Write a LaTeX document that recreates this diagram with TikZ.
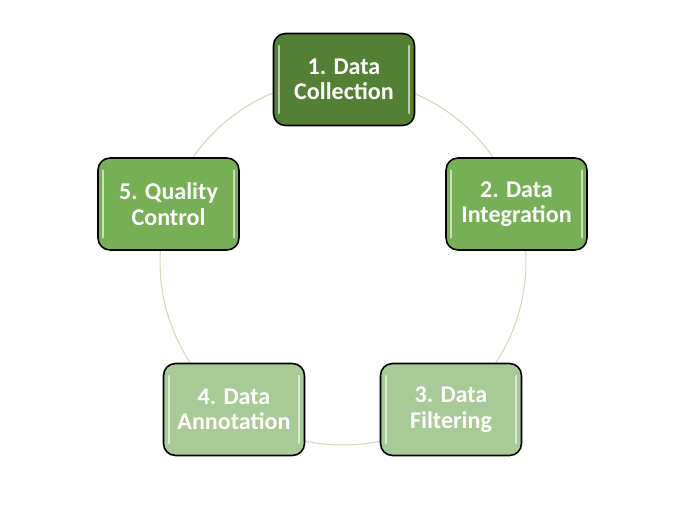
\documentclass[tikz,border=0pt]{standalone}
\usepackage{fontspec}
\setmainfont{Carlito}
\definecolor{darkleaf}{RGB}{83,128,52}
\definecolor{midleaf}{RGB}{118,175,85}
\definecolor{paleleaf}{RGB}{168,202,150}
\definecolor{ringleaf}{RGB}{200,222,186}
\begin{document}
\begin{tikzpicture}[
        x=0.02cm, y=-0.02cm,
        stage/.style={rectangle, rounded corners=0.24cm, draw=black, line width=0.9pt, text=white, minimum width=2.82cm, minimum height=1.84cm, align=center, font=\fontsize{13.7}{14.4}\selectfont\bfseries,
            path picture={
                \draw[white, opacity=0.6, line width=0.9pt, line cap=round] ([xshift=3pt,yshift=7pt]path picture bounding box.south west) -- ([xshift=3pt,yshift=-7pt]path picture bounding box.north west);
                \draw[white, opacity=0.6, line width=0.9pt, line cap=round] ([xshift=-3pt,yshift=7pt]path picture bounding box.south east) -- ([xshift=-3pt,yshift=-7pt]path picture bounding box.north east);
            }},
        ring/.style={ringleaf, line width=0.6pt}
    ]
        \useasboundingbox (0,0) rectangle (684,514);
        % Ring
        \draw[ring] (343,262) circle (3.66cm);
        
        % Boxes
        \node[stage, fill=darkleaf] (collect) at (344,79.5) {1. Data\\Collection};
        \node[stage, fill=midleaf] (integrate) at (516.5,204) {2. Data\\Integration};
        \node[stage, fill=paleleaf] (filter) at (451,409.5) {3. Data\\Filtering};
        \node[stage, fill=paleleaf] (annotate) at (234,409.5) {4. Data\\Annotation};
        \node[stage, fill=midleaf] (quality) at (168.5,204) {5. Quality\\Control};
    \end{tikzpicture}
\end{document}
